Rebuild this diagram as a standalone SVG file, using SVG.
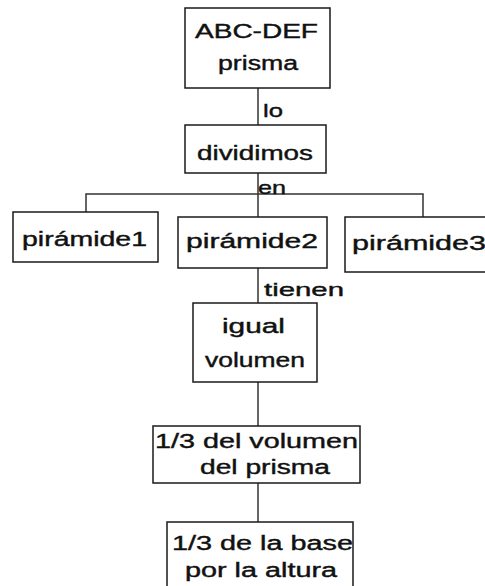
<svg xmlns="http://www.w3.org/2000/svg" width="485" height="586" viewBox="0 0 485 586">
<style>
.box{fill:#fff;stroke:#1a1a1a;stroke-width:1.5}
.t{font-family:"Liberation Sans",Arial,sans-serif;font-size:20px;fill:#111;stroke:#111;stroke-width:0.4}
.l{font-family:"Liberation Sans",Arial,sans-serif;font-size:19px;fill:#111;stroke:#111;stroke-width:0.4}
.c{fill:none;stroke:#333;stroke-width:1.5}
</style>
<rect width="485" height="586" fill="#fff"/>
<g id="connectors">
<line class="c" x1="258" y1="88" x2="258" y2="125"/>
<line class="c" x1="258" y1="173" x2="258" y2="217"/>
<polyline class="c" points="86,212 86,194 423,194 423,217"/>
<line class="c" x1="258" y1="268" x2="258" y2="303"/>
<line class="c" x1="258" y1="382" x2="258" y2="426"/>
<line class="c" x1="258" y1="483" x2="258" y2="522"/>
<text class="l" x="263" y="117" textLength="20" lengthAdjust="spacingAndGlyphs">lo</text>
<text class="l" x="258" y="194" textLength="28" lengthAdjust="spacingAndGlyphs" font-size="16">en</text>
<text class="l" x="264" y="296" textLength="80" lengthAdjust="spacingAndGlyphs">tienen</text>
</g>
<g id="n1">
<rect class="box" x="185" y="8" width="145" height="80"/>
<text class="t" x="195" y="38" textLength="123" lengthAdjust="spacingAndGlyphs">ABC-DEF</text>
<text class="t" x="218" y="70" textLength="80" lengthAdjust="spacingAndGlyphs">prisma</text>
</g>
<g id="n2">
<rect class="box" x="185" y="125" width="141" height="48"/>
<text class="t" x="197" y="160" textLength="116" lengthAdjust="spacingAndGlyphs">dividimos</text>
</g>
<g id="n3">
<rect class="box" x="13" y="212" width="145" height="50"/>
<text class="t" x="22" y="246" textLength="125" lengthAdjust="spacingAndGlyphs">pirámide1</text>
</g>
<g id="n4">
<rect class="box" x="178" y="217" width="149" height="51"/>
<text class="t" x="186" y="248" textLength="132" lengthAdjust="spacingAndGlyphs">pirámide2</text>
</g>
<g id="n5">
<rect class="box" x="345" y="217" width="145" height="55"/>
<text class="t" x="352" y="250" textLength="134" lengthAdjust="spacingAndGlyphs">pirámide3</text>
</g>
<g id="n6">
<rect class="box" x="193" y="303" width="124" height="79"/>
<text class="t" x="222" y="333" textLength="63" lengthAdjust="spacingAndGlyphs">igual</text>
<text class="t" x="205" y="367" textLength="100" lengthAdjust="spacingAndGlyphs">volumen</text>
</g>
<g id="n7">
<rect class="box" x="153" y="426" width="207" height="57"/>
<text class="t" x="155" y="448" textLength="203" lengthAdjust="spacingAndGlyphs">1/3 del volumen</text>
<text class="t" x="200" y="474" textLength="130" lengthAdjust="spacingAndGlyphs">del prisma</text>
</g>
<g id="n8">
<rect class="box" x="167" y="522" width="186" height="70"/>
<text class="t" x="172" y="550" textLength="181" lengthAdjust="spacingAndGlyphs">1/3 de la base</text>
<text class="t" x="185" y="577" textLength="152" lengthAdjust="spacingAndGlyphs">por la altura</text>
</g>
</svg>
